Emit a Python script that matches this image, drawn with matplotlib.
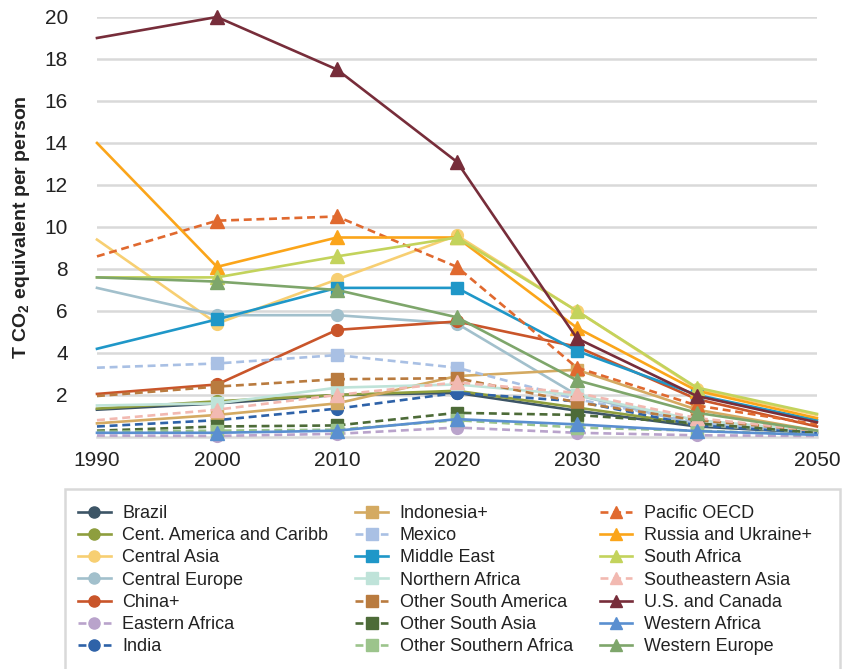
import numpy as np
import matplotlib
matplotlib.use("Agg")
import matplotlib.pyplot as plt
from matplotlib.patches import Rectangle

plt.rcParams.update({
    "font.family": ["Liberation Sans", "DejaVu Sans"],
    "mathtext.default": "regular",
})

years = [1990, 2000, 2010, 2020, 2030, 2040, 2050]

regions = [
    "Brazil", "Cent. America and Caribb", "Central Asia", "Central Europe",
    "China+", "Eastern Africa", "India",
    "Indonesia+", "Mexico", "Middle East", "Northern Africa",
    "Other South America", "Other South Asia", "Other Southern Africa",
    "Pacific OECD", "Russia and Ukraine+", "South Africa", "Southeastern Asia",
    "U.S. and Canada", "Western Africa", "Western Europe",
]

brazil = [1.3, 1.6, 2.0, 2.1, 1.25, 0.5, 0.2]
cent_america = [1.35, 1.7, 2.0, 2.2, 1.4, 0.6, 0.2]
central_asia = [9.4, 5.4, 7.5, 9.6, 6.0, 2.3, 1.05]
central_europe = [7.1, 5.8, 5.8, 5.4, 2.0, 0.6, 0.2]
china = [2.05, 2.5, 5.1, 5.5, 4.3, 1.8, 0.5]
eastern_africa = [0.07, 0.05, 0.15, 0.45, 0.2, 0.08, 0.05]
india = [0.5, 0.8, 1.35, 2.1, 1.7, 0.55, 0.2]
indonesia = [0.65, 1.05, 1.6, 2.9, 3.2, 1.3, 0.3]
mexico = [3.3, 3.5, 3.9, 3.3, 1.8, 0.7, 0.3]
middle_east = [4.2, 5.6, 7.1, 7.1, 4.1, 2.0, 0.8]
northern_africa = [1.5, 1.6, 2.35, 2.5, 2.0, 0.8, 0.3]
other_south_america = [1.95, 2.4, 2.75, 2.8, 1.65, 0.8, 0.3]
other_south_asia = [0.3, 0.5, 0.55, 1.15, 1.05, 0.65, 0.2]
other_southern_africa = [0.25, 0.3, 0.35, 0.8, 0.45, 0.3, 0.1]
pacific_oecd = [8.6, 10.3, 10.5, 8.1, 3.3, 1.5, 0.6]
russia = [14.0, 8.1, 9.5, 9.5, 5.2, 2.2, 0.9]
south_africa = [7.6, 7.6, 8.6, 9.5, 6.0, 2.35, 1.1]
southeastern_asia = [0.8, 1.3, 2.0, 2.6, 2.1, 0.9, 0.3]
us_canada = [19.0, 20.0, 17.5, 13.1, 4.7, 1.95, 0.7]
western_africa = [0.2, 0.2, 0.3, 0.85, 0.6, 0.28, 0.1]
western_europe = [7.6, 7.4, 7.0, 5.7, 2.7, 1.15, 0.3]

series = [brazil, cent_america, central_asia, central_europe, china,
          eastern_africa, india, indonesia, mexico, middle_east,
          northern_africa, other_south_america, other_south_asia,
          other_southern_africa, pacific_oecd, russia, south_africa,
          southeastern_asia, us_canada, western_africa, western_europe]

colors = ["#3d5566", "#8e9e3e", "#f7cf72", "#a2c0cc", "#c9552a", "#b9a3cb", "#2e62a8",
          "#d4aa62", "#a9c0e4", "#1f97c8", "#bfe3d9", "#b97b3f", "#4d6b38", "#9cc48c",
          "#e0692f", "#fba51a", "#c3d35c", "#f2b9b1", "#772d3a", "#5a8fd0", "#7ea66b"]

dashed = {"Eastern Africa", "India", "Mexico", "Other South America",
          "Other South Asia", "Other Southern Africa", "Pacific OECD",
          "Southeastern Asia"}

fig = plt.figure(figsize=(8.44, 6.69), dpi=100)
ax = fig.add_axes([0.1149, 0.3468, 0.853, 0.6278])

for i, (name, vals, c) in enumerate(zip(regions, series, colors)):
    marker = "o" if i < 7 else ("s" if i < 14 else "^")
    ms = 8.5 if marker != "^" else 10
    ls = (0, (3, 1.8)) if name in dashed else "-"
    ax.plot(years, vals, color=c, lw=1.9, linestyle=ls, marker=marker,
            markersize=ms, markevery=[1, 2, 3, 4, 5], label=name,
            clip_on=False, zorder=3 + i * 0.01)

ax.set_xlim(1990, 2050)
ax.set_ylim(0, 20)
ax.set_xticks(years)
ax.set_yticks(range(2, 21, 2))
ax.grid(axis="y", color="#d9d9d9", lw=1.8, zorder=0)
ax.set_axisbelow(True)
for s in ["top", "right", "left"]:
    ax.spines[s].set_visible(False)
ax.spines["bottom"].set_color("#d9d9d9")
ax.spines["bottom"].set_linewidth(1.8)
ax.tick_params(axis="both", length=0, labelsize=15, colors="#222222")
ax.tick_params(axis="x", pad=10)
ax.tick_params(axis="y", pad=21)
ax.set_ylabel("T CO$_2$ equivalent per person", fontsize=14, fontweight="bold",
              color="#222222", labelpad=9)

# legend box (frame drawn separately, wider than the entries)
fig.patches.append(Rectangle((65 / 844, -0.01), 775 / 844, 1 - 489 / 669 + 0.01,
                             transform=fig.transFigure, facecolor="white",
                             edgecolor="#d9d9d9", lw=1.8, zorder=0))

leg = fig.legend(loc="upper left", bbox_to_anchor=(78 / 844, 1 - 505 / 669),
                 ncol=3, fontsize=13, frameon=False,
                 handlelength=1.8, labelspacing=0.29, borderpad=0.0,
                 handletextpad=0.65, columnspacing=1.5, borderaxespad=0.0)
for t in leg.get_texts():
    t.set_color("#222222")
for h in leg.legend_handles:
    h.set_markersize(8)

fig.savefig("out.png", dpi=100)
